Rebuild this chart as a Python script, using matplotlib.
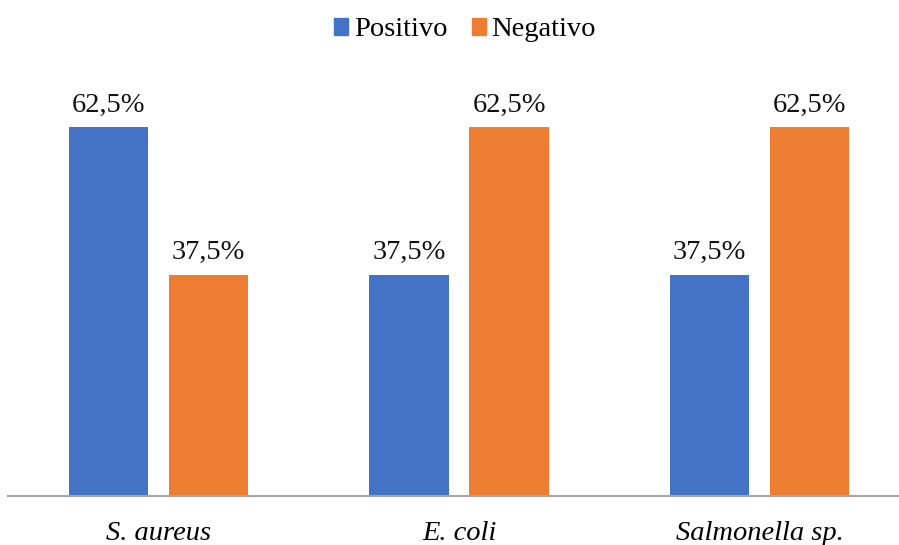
import matplotlib
matplotlib.use("Agg")
import matplotlib.pyplot as plt
import numpy as np
from matplotlib.patches import Patch

categories = ["S. aureus", "E. coli", "Salmonella sp."]
positivo = [62.5, 37.5, 37.5]
negativo = [37.5, 62.5, 62.5]
series_names = ["Positivo", "Negativo"]
colors = ["#4472C4", "#ED7D31"]

plt.rcParams["font.family"] = ["Liberation Serif", "DejaVu Serif"]

W, H = 899, 545
fig = plt.figure(figsize=(W / 100, H / 100), dpi=100)
ax = fig.add_axes([8 / W, (H - 496) / H, (W - 8) / W, 413 / H])

x = np.arange(len(categories))
bw = 0.263
off = 0.1664
bars_p = ax.bar(x - off, positivo, bw, color=colors[0])
bars_n = ax.bar(x + off, negativo, bw, color=colors[1])

for bars, vals in ((bars_p, positivo), (bars_n, negativo)):
    for b, v in zip(bars, vals):
        ax.annotate(f"{v:.1f}%".replace(".", ","),
                    (b.get_x() + b.get_width() / 2, v),
                    xytext=(0, 7), textcoords="offset points",
                    ha="center", va="bottom", fontsize=20.5, color="#111111")

ax.set_xlim(-0.5, 2.5 - 11 / 300.5)
ax.set_ylim(0, 70)
for s in ("top", "right", "left"):
    ax.spines[s].set_visible(False)
ax.spines["bottom"].set_color("#A6A6A6")
ax.spines["bottom"].set_linewidth(1.5)
ax.set_yticks([])
ax.set_xticks(x)
ax.set_xticklabels(categories, fontsize=20.5, style="italic")
ax.tick_params(axis="x", length=0, pad=18)

handles = [Patch(color=c, label=n) for c, n in zip(colors, series_names)]
fig.legend(handles=handles, loc="center", bbox_to_anchor=(465 / W, 1 - 30 / H),
           ncol=2, frameon=False, fontsize=20.5, handlelength=0.5, handleheight=0.5,
           handletextpad=0.2, columnspacing=0.85)

fig.savefig("out.png", dpi=100)
